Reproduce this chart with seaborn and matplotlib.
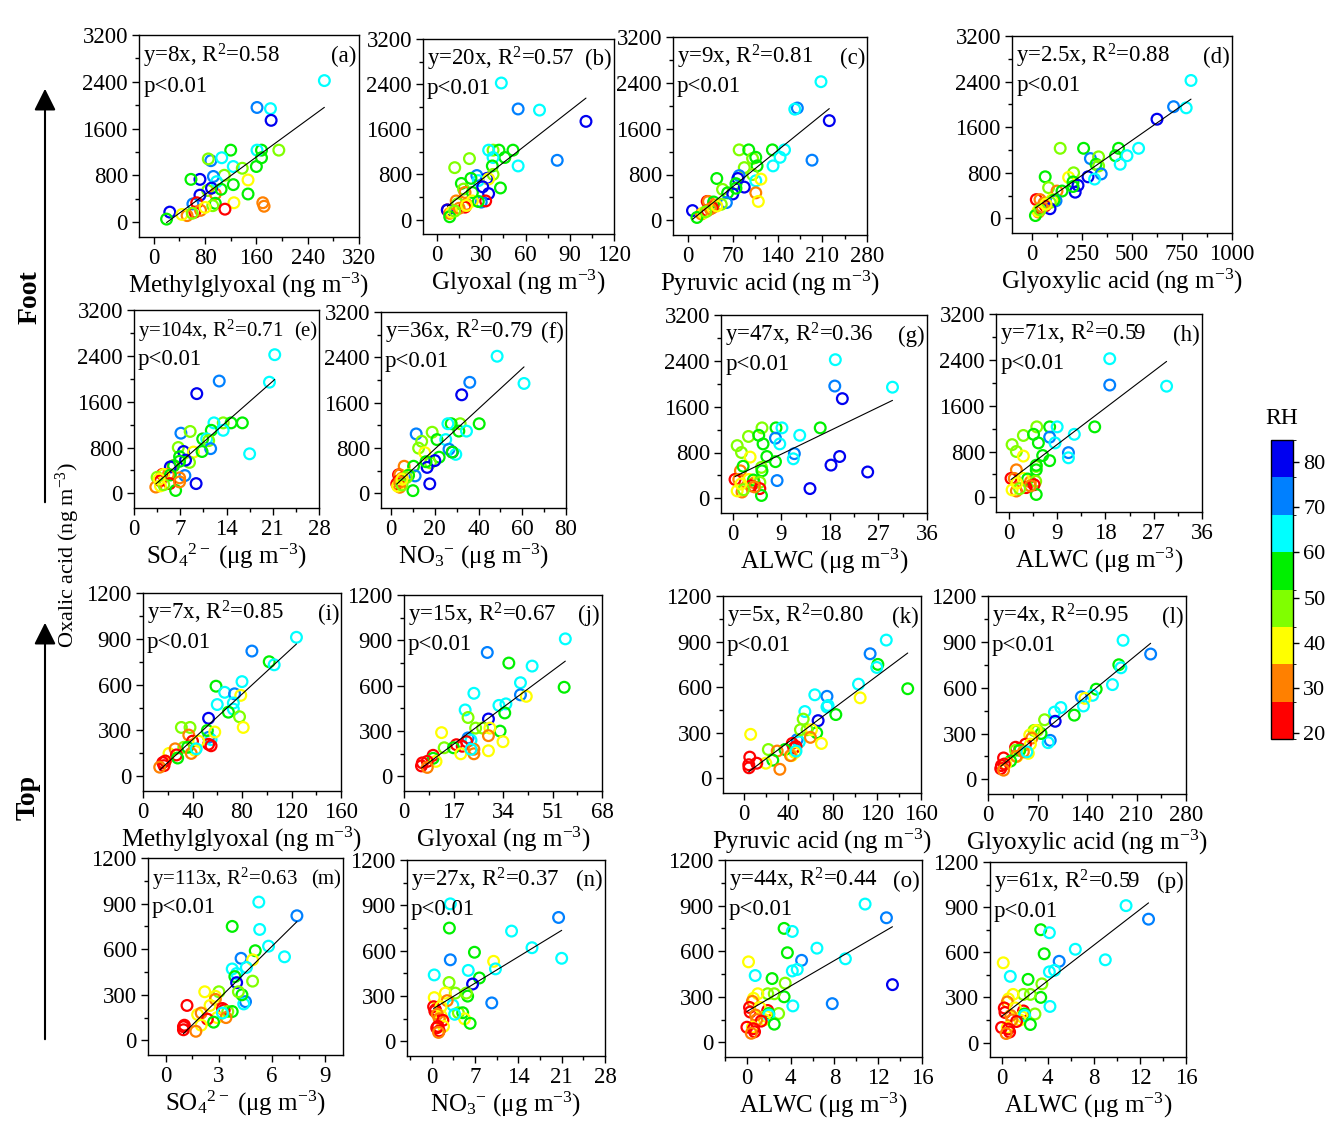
import numpy as np
import pandas as pd
import seaborn as sns
import matplotlib
matplotlib.use('Agg')
from matplotlib import pyplot as plt
from matplotlib.colors import ListedColormap, BoundaryNorm
from matplotlib.cm import ScalarMappable
from matplotlib.patches import FancyArrowPatch
from matplotlib.ticker import MultipleLocator

# ---------------- data ----------------
nan = np.nan

# foot samples: oxalic acid (ng m-3), RH (%) and the x variables
foot_oxalic = [2420, 1960, 1940, 1740, 1230, 1230, 1230, 1230, 1050, 1080, 1100, 1100, 950, 950, 920,
               800, 780, 730, 690, 720, 730, 640, 540, 480, 480, 460, 580, 310, 330, 330,
               270, 330, 320, 280, 220, 170, 170, 110, 130, 50, 200, 150, 560, 250]
foot_rh = [64, 72, 64, 81, 47, 56, 56, 64, 72, 47, 56, 64, 56, 64, 47,
           47, 72, 81, 64, 39, 56, 56, 47, 31, 56, 81, 81, 74, 22, 31,
           31, 39, 56, 47, 22, 22, 81, 31, 39, 56, 31, 47, 56, 39]
foot_mgly = [266, 161, 182, 183, 195, 120, 168, 161, 89, 85, 168, 106, 160, 124, 138,
             110, 93, 72, 98, 147, 58, 124, 84, 96, 147, 72, 90, 61, 67, 170,
             172, 125, 96, 92, 111, 64, 25, 52, 44, 20, 73, 60, 105, 80]
foot_gly = [43.6, 55, 69.5, 101, 38, 42, 51.5, 35, 81.5, 22, 46, 38, 37.5, 55, 12,
            38, 27, 34, 28, 35, 23, 16.5, 18, 19, 24, 35, 31, 30, 33, 13,
            20, 24, 28, 14, 19, 7, 7, 8.6, 10, 8.6, 15, 12, 43, 20]
foot_pyr = [208, 171, 167, 221, 80, 95, 132, 151, 194, 101, 106, 144, 108, 133, 88,
            101, 80, 78, 106, 114, 45, 75, 54, 106, 62, 70, 88, 60, 30, 32,
            40, 110, 40, 52, 38, 30, 7, 21, 24, 14, 35, 28, 75, 45]
foot_glyox = [795, 708, 771, 625, 141, 258, 433, 533, 292, 333, 417, 475, 320, 441, 333,
              208, 346, 280, 313, 183, 66, 205, 83, 125, 150, 216, 230, 120, 21.5, 40,
              60, 100, 110, 91, 66, 45, 90, 33, 30, 17, 50, 40, 205, 70]
foot_so4 = [21.3, 12.9, 20.5, 9.5, 13.5, 14.7, 16.4, 12.1, 7.1, 8.5, 11.7, 13.5, 10.4, 11.0, 11.3,
            6.7, 11.6, 7.5, 17.5, 9.0, 10.3, 6.9, 8.4, 5.9, 6.0, 5.5, 7.8, 7.7, 4.3, 5.2,
            6.9, 4.5, 5.5, 3.5, 4.0, 5.4, 9.4, 3.3, 4.0, 6.3, 6.9, 4.5, 6.9, 3.8]
foot_no3 = [48.5, 36, 60.8, 32.3, 31.6, 27.5, 40.3, 26, 11.5, 18.8, 31, 34.5, 21, 25, 14,
            12.6, 26.5, 28, 29.6, 15.4, 28, 22, 18, 6, 10.3, 16.5, 20, 11, 3.4, 4.0,
            5.0, 8, 8, 7, 3.5, 2.6, 17.7, 4, 3, 10, 4, 5, 16, 5]
foot_alwc = [19.0, 18.9, 29.6, 20.3, 5.4, 8.0, 16.2, 9.1, 7.9, 2.9, 4.8, 12.4, 5.6, 8.7, 0.8,
             1.6, 11.4, 19.8, 11.2, 3.2, 6.3, 7.9, 5.3, 1.4, 5.4, 25, 18.2, 8.2, 0.4, 1.1,
             4.0, 3.0, 3.8, 5.0, 3.4, 5.0, 14.3, 1.7, 0.8, 5.3, 4.0, 2.0, 1.9, 1.5]
foot_alwc_h = [18.8, 18.8, 29.4, nan, 5.2, 7.6, 16.0, 9.0, 7.6, 2.7, 4.6, 12.2, 5.5, 8.6, 0.6,
               1.4, 11.1, nan, 11.1, 2.7, 6.3, 7.6, 5.1, 1.4, 5.1, nan, nan, nan, 0.4, 1.0,
               4.0, 2.7, 3.5, 5.0, 4.7, 3.2, nan, 1.4, 0.6, 5.1, 4.0, 2.0, 5.1, 1.5]

# top samples
top_oxalic = [910, 820, 750, 730, 620, 590, 550, 540, 530, 470, 480, 440, 420, 390, 380,
              255, 240, 300, 320, 320, 320, 290, 270, 230, 210, 200, 230, 170, 190, 190,
              150, 150, 180, 180, 140, 120, 100, 90, 100, 70, 60]
top_rh = [64, 72, 56, 64, 64, 56, 64, 72, 39, 64, 64, 64, 56, 47, 81,
          74, 64, 56, 47, 47, 39, 39, 31, 22, 22, 22, 39, 39, 47, 56,
          39, 31, 31, 64, 22, 56, 39, 22, 22, 22, 31]
top_mgly = [124, 88, 102, 106, 80, 59, 66, 74, 79, 60, 73, 73, 69, 78, 53,
            53, 55, 52, 31, 38, 81, 58, 37, 40, 53, 55, 45, 42, 33, 36,
            21, 39, 26, 43, 27, 28, 18, 16, 18, 17, 13.5]
top_gly = [55.4, 28.6, 36, 44, 40, 55, 24, 40, 42, 32.6, 35, 21, 34.6, 22, 29,
           22, 23, 33, 24.6, 27, 29.5, 12.9, 29, 21.5, 18, 20, 34, 29, 13.8, 17,
           19.5, 24, 24, 23, 10, 10, 11, 6.3, 8, 6, 8]
top_pyr = [128.6, 114, 121, 120, 103.5, 148, 64, 75, 105, 75, 76, 55, 83, 53.5, 67,
           48, 50, 65.7, 57, 51, 61, 6, 60, 43.6, 47, 45, 70, 46, 22, 37,
           43, 42, 30, 47, 5.2, 26, 19.7, 4.3, 11.5, 4.5, 32.4]
top_glyox = [191, 230, 185, 188, 176, 153, 148, 132, 137, 103, 135, 94, 122, 80, 95,
             88, 85, 75, 70, 65, 68, 59, 62, 53, 39, 45, 60, 57, 39, 45,
             41, 40, 50, 55, 22, 32, 25, 19, 23, 18, 22]
top_so4 = [5.25, 7.4, 3.75, 5.3, 5.8, 5.05, 6.7, 4.25, 4.9, 3.75, 4.55, 4.0, 3.9, 4.9, 4.0,
           4.5, 4.4, 4.3, 4.1, 3.0, 2.2, 2.8, 2.8, 1.2, 3.2, 3.3, 2.5, 1.8, 3.5, 3.75,
           2.9, 3.4, 2.0, 3.2, 2.35, 2.7, 2.0, 1.0, 1.05, 1.0, 1.7]
top_no3 = [3.0, 20.5, 2.85, 12.9, 16.2, 6.9, 21, 3.0, 10, 5.9, 10.3, 0.4, 7.7, 2.8, 6.6,
           9.7, 3.4, 5.8, 5.6, 3.8, 2.2, 0.4, 2.5, 0.3, 0.6, 0.5, 1.5, 1.5, 4.3, 5.0,
           5.3, 1.2, 0.9, 3.7, 1.8, 6.2, 1.9, 0.8, 1.0, 1.2, 1.1]
top_alwc = [10.8, 12.75, 3.4, 4.15, 6.4, 3.7, 9.0, 5.0, 0.15, 4.15, 4.6, 0.76, 2.3, 3.5, 13.3,
            7.8, 4.2, 3.4, 2.5, 1.9, 1.0, 0.6, 0.5, 0.24, 1.9, 0.3, 1.2, 1.8, 2.9, 2.0,
            1.6, 0.9, 0.8, 2.0, 1.3, 2.5, 0.5, 0.6, 0.0, 0.7, 0.4]
top_alwc_p = [10.8, 12.75, 3.4, 4.15, 6.4, 3.7, 9.0, 5.0, 0.15, 4.15, 4.6, 0.76, 2.3, 3.5, nan,
              nan, 4.2, 3.4, 2.5, 1.9, 1.0, 0.6, 0.5, 0.24, 1.9, 0.3, 1.2, 1.8, 2.9, 2.0,
              1.6, 0.9, 0.8, 2.0, 1.3, 2.5, 0.5, 0.6, 0.0, 0.7, 0.4]

# fit statistics printed in each panel
eq_foot = ['y=8x, R$^2$=0.58', 'y=20x, R$^2$=0.57', 'y=9x, R$^2$=0.81', 'y=2.5x, R$^2$=0.88',
           'y=104x, R$^2$=0.71', 'y=36x, R$^2$=0.79', 'y=47x, R$^2$=0.36', 'y=71x, R$^2$=0.59']
eq_top = ['y=7x, R$^2$=0.85', 'y=15x, R$^2$=0.67', 'y=5x, R$^2$=0.80', 'y=4x, R$^2$=0.95',
          'y=113x, R$^2$=0.63', 'y=27x, R$^2$=0.37', 'y=44x, R$^2$=0.44', 'y=61x, R$^2$=0.59']
panel_tags = ['(a)', '(b)', '(c)', '(d)', '(e)', '(f)', '(g)', '(h)',
              '(i)', '(j)', '(k)', '(l)', '(m)', '(n)', '(o)', '(p)']

# RH colour classes
rh_edges = [18.7, 27.0, 35.2, 43.5, 51.8, 60.0, 68.3, 76.6, 84.9]
rh_colors = ['#FF0000', '#FF8000', '#FFFF00', '#80FF00', '#00F000', '#00FFFF', '#0080FF', '#0000F0']
rh_ticks = [20, 30, 40, 50, 60, 70, 80]

# ---------------- style ----------------
sns.set_style('ticks', {'axes.edgecolor': 'black', 'xtick.color': 'black', 'ytick.color': 'black',
                        'text.color': 'black', 'axes.labelcolor': 'black'})
plt.rcParams['font.family'] = ['Liberation Serif', 'DejaVu Serif']
plt.rcParams['mathtext.fontset'] = 'custom'
plt.rcParams['mathtext.rm'] = 'Liberation Serif'
plt.rcParams['mathtext.it'] = 'Liberation Serif:italic'
plt.rcParams['mathtext.bf'] = 'Liberation Serif:bold'
plt.rcParams['axes.linewidth'] = 1.0

cmap = ListedColormap(rh_colors)
norm = BoundaryNorm(rh_edges, cmap.N)

W, H = 1343, 1143
fig = plt.figure(figsize=(W / 100, H / 100), dpi=100)


def add_ax(l, t, r, b):
    return fig.add_axes([l / W, 1 - b / H, (r - l) / W, (b - t) / H])


lab_mg = r'Methylglyoxal (ng m$^{-3}$)'
lab_gl = r'Glyoxal (ng m$^{-3}$)'
lab_py = r'Pyruvic acid (ng m$^{-3}$)'
lab_gx = r'Glyoxylic acid (ng m$^{-3}$)'
lab_so4 = r'SO$_4$$^{2-}$ (μg m$^{-3}$)'
lab_no3 = r'NO$_3$$^{-}$ (μg m$^{-3}$)'
lab_alwc = r'ALWC (μg m$^{-3}$)'

# box (px), x data, y data, rh, xlim, xtick step, xlabel
panels = [
    ((139, 35, 359, 237), foot_mgly, foot_oxalic, foot_rh, (-23, 320), 80, lab_mg),
    ((423, 39, 614, 234), foot_gly, foot_oxalic, foot_rh, (-9.5, 120), 30, lab_gl),
    ((673, 37, 867, 235), foot_pyr, foot_oxalic, foot_rh, (-23.5, 280), 70, lab_py),
    ((1012, 36, 1232, 233), foot_glyox, foot_oxalic, foot_rh, (-100, 1000), 250, lab_gx),
    ((134, 310, 319, 508), foot_so4, foot_oxalic, foot_rh, (0, 28), 7, lab_so4),
    ((381, 312, 566, 508), foot_no3, foot_oxalic, foot_rh, (-4.6, 80), 20, lab_no3),
    ((721, 315, 927, 513), foot_alwc, foot_oxalic, foot_rh, (-2.2, 36), 9, lab_alwc),
    ((996, 314, 1202, 512), foot_alwc_h, foot_oxalic, foot_rh, (-2.4, 36), 9, lab_alwc),
    ((143, 593, 341, 791), top_mgly, top_oxalic, top_rh, (0, 160), 40, lab_mg),
    ((404, 595, 602, 791), top_gly, top_oxalic, top_rh, (0, 68), 17, lab_gl),
    ((723, 596, 921, 793), top_pyr, top_oxalic, top_rh, (-19, 160), 40, lab_py),
    ((988, 596, 1186, 794), top_glyox, top_oxalic, top_rh, (0, 280), 70, lab_gx),
    ((148, 858, 343, 1055), top_so4, top_oxalic, top_rh, (-1, 10), 3, lab_so4),
    ((407, 860, 605, 1056), top_no3, top_oxalic, top_rh, (-4, 28), 7, lab_no3),
    ((725, 860, 922, 1057), top_alwc, top_oxalic, top_rh, (-2, 16), 4, lab_alwc),
    ((990, 862, 1186, 1057), top_alwc_p, top_oxalic, top_rh, (-1, 16), 4, lab_alwc),
]
eqs = eq_foot + eq_top

for n, (box, xs, ys, rh, xlim, step, xlabel) in enumerate(panels):
    ax = add_ax(*box)
    d = pd.DataFrame({'x': xs, 'y': ys, 'rh': rh}).dropna()
    sns.scatterplot(data=d, x='x', y='y', hue='rh', palette=cmap, hue_norm=norm,
                    legend=False, s=60, linewidth=1.6, ax=ax)
    # open circles: move the hue colour to the edge
    pts = ax.collections[-1]
    pts.set_edgecolors(pts.get_facecolors())
    pts.set_facecolors('none')
    sns.regplot(data=d, x='x', y='y', scatter=False, ci=None, color='black',
                line_kws={'lw': 0.8}, ax=ax)

    top_row = n < 8
    ymax = 3200 if top_row else 1200
    ystep = 800 if top_row else 300
    ax.set_ylim(-0.08 * ymax, ymax)
    ax.set_xlim(*xlim)
    ax.set_xticks(np.arange(0, xlim[1] + step * 0.01, step))
    ax.set_yticks(np.arange(0, ymax + 1, ystep))
    ax.xaxis.set_minor_locator(MultipleLocator(step / 2))
    ax.yaxis.set_minor_locator(MultipleLocator(ystep / 2))
    ax.tick_params(which='both', direction='out', top=False, right=False, width=1)
    ax.tick_params(which='major', length=5, labelsize=16.5, pad=3)
    ax.tick_params(which='minor', length=3)
    for s in ax.spines.values():
        s.set_visible(True)
        s.set_linewidth(1.0)
    ax.set_xlabel(xlabel, fontsize=18, labelpad=1)
    ax.set_ylabel('')
    slope = eqs[n][2:eqs[n].index('x')]
    fs = 15 if len(slope) == 3 and slope.isdigit() else 16.5
    ax.text(0.02, 0.865, eqs[n], transform=ax.transAxes, fontsize=fs, ha='left', va='baseline')
    ax.text(0.02, 0.72, 'p<0.01', transform=ax.transAxes, fontsize=16.5, ha='left', va='baseline')
    ax.text(0.99, 0.865, panel_tags[n], transform=ax.transAxes, fontsize=fs, ha='right', va='baseline')

# colour bar
cax = add_ax(1271, 440, 1293, 739)
cb = fig.colorbar(ScalarMappable(norm=norm, cmap=cmap), cax=cax, ticks=rh_ticks, spacing='proportional')
cb.ax.tick_params(labelsize=16, length=4, width=1, colors='black')
cb.outline.set_linewidth(1.0)
fig.text(1282 / W, 1 - 418 / H, 'RH', fontsize=17, ha='center', va='center')

# side labels and arrows
fig.text(68 / W, 1 - 555 / H, r'Oxalic acid (ng m$^{-3}$)', rotation=90, fontsize=16,
         ha='center', va='center')
fig.text(30 / W, 1 - 297 / H, 'Foot', rotation=90, fontsize=20, fontweight='bold',
         ha='center', va='center')
fig.text(28 / W, 1 - 797 / H, 'Top', rotation=90, fontsize=20, fontweight='bold',
         ha='center', va='center')
for y0, y1 in [(505, 86), (1042, 620)]:
    arr = FancyArrowPatch((45 / W, 1 - y0 / H), (45 / W, 1 - y1 / H), transform=fig.transFigure,
                          arrowstyle='-|>,head_length=6,head_width=3', mutation_scale=2.2,
                          color='black', lw=1.5)
    fig.add_artist(arr)

fig.savefig('out.png', dpi=100)
